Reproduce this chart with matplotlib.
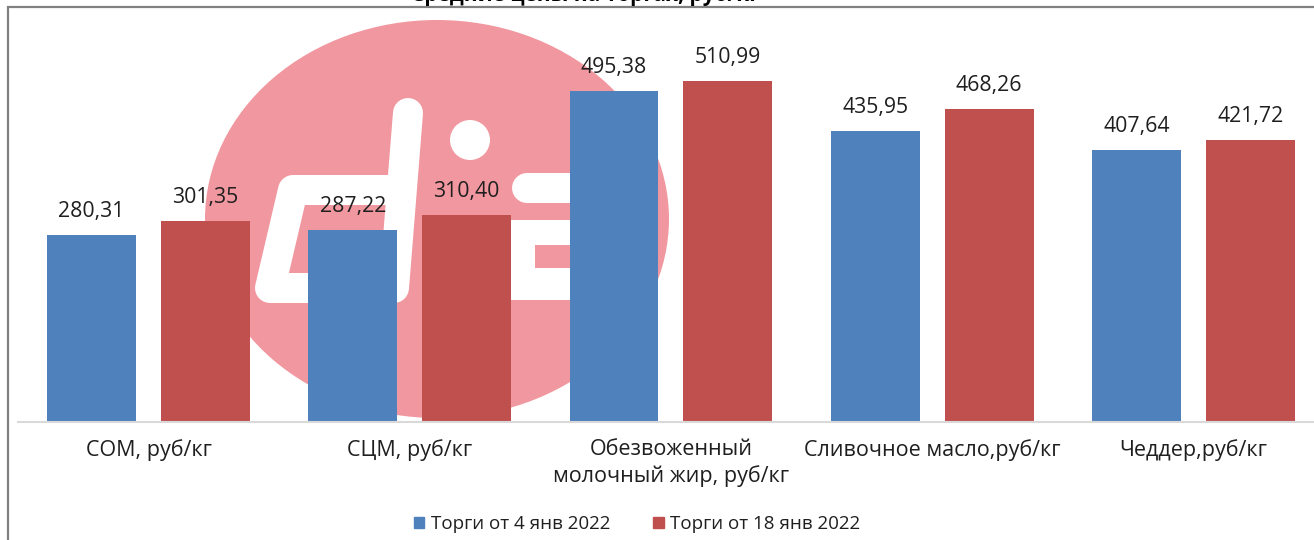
import numpy as np
import matplotlib
matplotlib.use('Agg')
import matplotlib.pyplot as plt
from matplotlib.patches import Ellipse, Circle, Rectangle, Patch

# Данные с графика
categorias = ['СОМ, руб/кг', 'СЦМ, руб/кг', 'Обезвоженный\nмолочный жир, руб/кг',
              'Сливочное масло,руб/кг', 'Чеддер,руб/кг']
torgi_4_yanv = [280.31, 287.22, 495.38, 435.95, 407.64]
torgi_18_yanv = [301.35, 310.40, 510.99, 468.26, 421.72]
series = ['Торги от 4 янв 2022', 'Торги от 18 янв 2022']
titulo = 'Средние цены на торгах, руб/кг'

W, H = 1314, 540
AZUL = '#4F81BD'
ROJO = '#C0504D'
ROSA = '#F1979F'
TEXTO = '#1F1F1F'

plt.rcParams['font.family'] = ['Open Sans', 'DejaVu Sans']


def fmt(v):
    return f'{v:.2f}'.replace('.', ',')


def dibujar_marca(ax):
    """Водяной знак: розовый круг с белым логотипом."""
    fondo = Ellipse((437, 219), 464, 398, color=ROSA, lw=0)
    ax.add_patch(fondo)
    lw = 30 * 72 / 100
    d, = ax.plot([408, 394, 270, 293, 390], [113, 288, 288, 190, 190], color='white', lw=lw,
                 solid_capstyle='round', solid_joinstyle='round')
    barra, = ax.plot([527, 640], [188, 188], color='white', lw=lw, solid_capstyle='round')
    bloque = Rectangle((503, 220), 140, 80, color='white', lw=0)
    hueco = Rectangle((535, 245), 120, 23, color=ROSA, lw=0)
    punto = Circle((470, 140), 20, color='white', lw=0)
    for art in [bloque, hueco, punto]:
        ax.add_patch(art)
    for art in [d, barra, bloque, hueco, punto]:
        art.set_clip_path(fondo)


def main():
    fig = plt.figure(figsize=(W / 100, H / 100), dpi=100)

    izq, der, abajo, arriba = 17.9, 1324, 422, 10
    rect = [izq / W, 1 - abajo / H, (der - izq) / W, (abajo - arriba) / H]

    ax_bg = fig.add_axes(rect, zorder=0)
    ax_bg.set_xlim(izq, der)
    ax_bg.set_ylim(abajo, arriba)
    ax_bg.axis('off')
    dibujar_marca(ax_bg)

    ax = fig.add_axes(rect, zorder=1)
    ax.set_facecolor('none')

    x = np.arange(len(categorias))
    ancho = 0.34
    ax.bar(x - 0.218, torgi_4_yanv, ancho, color=AZUL)
    ax.bar(x + 0.218, torgi_18_yanv, ancho, color=ROJO)

    for xi, v in zip(x - 0.218, torgi_4_yanv):
        ax.annotate(fmt(v), (xi, v), xytext=(0, 13), textcoords='offset points',
                    ha='center', va='baseline', fontsize=15.3, color=TEXTO)
    for xi, v in zip(x + 0.218, torgi_18_yanv):
        ax.annotate(fmt(v), (xi, v), xytext=(0, 13), textcoords='offset points',
                    ha='center', va='baseline', fontsize=15.3, color=TEXTO)

    ax.set_xlim(-0.5, len(categorias) - 0.5)
    ax.set_ylim(0, 617)
    ax.set_xticks(x)
    ax.set_xticklabels(categorias, fontsize=15.5, color=TEXTO, linespacing=1.35)
    ax.tick_params(axis='x', length=0, pad=12)
    ax.set_yticks([])
    for lado in ['top', 'right', 'left']:
        ax.spines[lado].set_visible(False)
    ax.spines['bottom'].set_color('#D9D9D9')
    ax.spines['bottom'].set_linewidth(1.5)

    manijas = [Patch(color=AZUL, label=series[0]), Patch(color=ROJO, label=series[1])]
    fig.legend(handles=manijas, loc='center', bbox_to_anchor=(637 / W, 16 / H), ncol=2,
               frameon=False, fontsize=13.5, handlelength=0.55, handleheight=0.55,
               handletextpad=0.35, columnspacing=2.3, labelcolor=TEXTO)

    # Заголовок почти обрезан сверху
    fig.text(585 / W, 1 - 1 / H, titulo, ha='center', va='baseline', fontsize=15,
             weight='bold', color='black')

    marco = Rectangle((8 / W, -0.1), 1.2, 1 - 7 / H + 0.1, transform=fig.transFigure,
                      fill=False, ec='#808080', lw=1.6)
    fig.add_artist(marco)

    fig.savefig('out.png', dpi=100)


if __name__ == '__main__':
    main()
